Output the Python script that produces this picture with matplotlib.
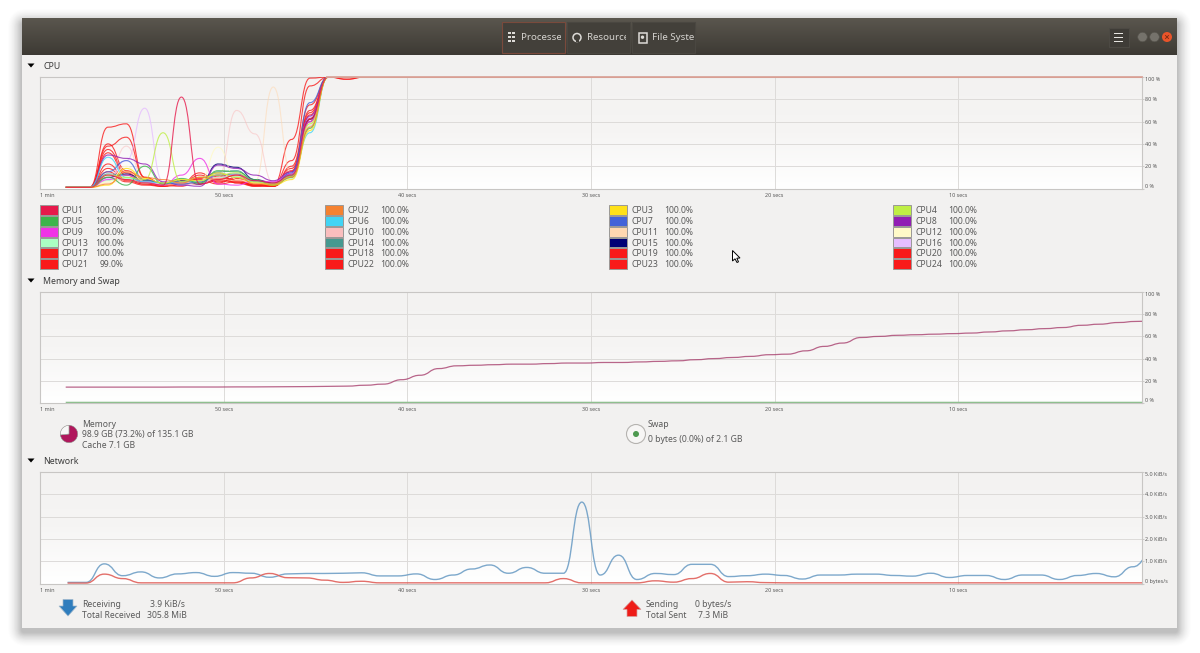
"""System monitor window: CPU, memory and network history graphs"""
import numpy as np
import matplotlib
matplotlib.use('Agg')
import matplotlib.pyplot as plt
from matplotlib.colors import LinearSegmentedColormap
from matplotlib.patches import FancyBboxPatch, PathPatch, Polygon, Rectangle, Circle
from matplotlib.path import Path

plt.rcParams['font.family'] = ['Noto Sans', 'DejaVu Sans']

W, H = 1200, 653

# seconds ago for every sample
cpu_secs = [58.6] + list(np.arange(58.3, -1, -1))
net_secs = list(np.arange(58.5, -1, -1))
tick_secs = [60, 50, 40, 30, 20, 10]
tick_names = ['1 min', '50 secs', '40 secs', '30 secs', '20 secs', '10 secs']

# rest of the CPU history once everything is loaded
settled = [100] * 45
dipped = [98, 100] + [100] * 43

cpu1 = [1, 1, 1, 12, 8, 5, 3, 82, 4, 8, 12, 7, 5, 12, 62, 100] + settled
cpu2 = [1, 1, 1, 4, 15, 10, 8, 5, 10, 8, 12, 4, 4, 10, 55, 100] + settled
cpu3 = [1, 1, 1, 3, 18, 9, 5, 8, 7, 14, 10, 5, 3, 8, 52, 100] + settled
cpu4 = [1, 1, 1, 12, 10, 8, 50, 6, 10, 12, 14, 6, 4, 11, 58, 100] + settled
cpu5 = [1, 1, 1, 10, 3, 20, 4, 9, 5, 16, 15, 8, 3, 10, 54, 100] + settled
cpu6 = [1, 1, 1, 28, 10, 6, 5, 6, 7, 14, 10, 6, 4, 12, 50, 100] + settled
cpu7 = [1, 1, 1, 15, 25, 8, 5, 4, 6, 12, 13, 7, 4, 14, 77, 100] + settled
cpu8 = [1, 1, 1, 30, 27, 22, 6, 3, 2, 21, 18, 12, 7, 15, 65, 100] + settled
cpu9 = [1, 1, 1, 8, 12, 6, 3, 12, 27, 4, 3, 7, 6, 13, 60, 100] + settled
cpu10 = [1, 1, 1, 10, 38, 6, 4, 5, 6, 10, 70, 49, 5, 10, 56, 100] + settled
cpu11 = [1, 1, 1, 5, 8, 5, 3, 4, 5, 9, 7, 6, 91, 13, 58, 100] + settled
cpu12 = [1, 1, 1, 6, 20, 6, 4, 5, 6, 37, 8, 5, 4, 10, 53, 100] + settled
cpu13 = [1, 1, 1, 7, 9, 5, 4, 8, 6, 10, 11, 6, 4, 9, 56, 100] + settled
cpu14 = [1, 1, 1, 13, 12, 7, 5, 8, 5, 15, 16, 6, 4, 12, 60, 100] + settled
cpu15 = [1, 1, 1, 10, 13, 7, 5, 7, 4, 22, 19, 8, 5, 11, 62, 100] + settled
cpu16 = [1, 1, 1, 9, 25, 72, 6, 3, 5, 10, 12, 7, 6, 14, 64, 100] + settled
cpu17 = [1, 1, 1, 55, 58, 10, 3, 5, 4, 7, 6, 3, 3, 44, 99, 100] + dipped
cpu18 = [1, 1, 1, 38, 46, 10, 4, 4, 12, 6, 9, 3, 4, 25, 92, 100] + dipped
cpu19 = [1, 1, 1, 35, 14, 6, 3, 5, 14, 5, 10, 4, 2, 20, 75, 100] + settled
cpu20 = [1, 1, 1, 32, 12, 5, 2, 3, 10, 12, 7, 3, 2, 16, 70, 100] + settled
cpu21 = [1, 1, 1, 22, 8, 4, 3, 7, 8, 4, 6, 3, 3, 18, 68, 100] + settled
cpu22 = [1, 1, 1, 18, 7, 4, 2, 6, 6, 9, 8, 2, 2, 13, 63, 100] + settled
cpu23 = [1, 1, 1, 15, 6, 3, 2, 6, 5, 11, 5, 2, 3, 12, 60, 100] + settled
cpu24 = [1, 1, 1, 40, 16, 8, 3, 2, 9, 14, 5, 3, 2, 15, 66, 100] + settled

cpu_series = [cpu1, cpu2, cpu3, cpu4, cpu5, cpu6, cpu7, cpu8, cpu9, cpu10, cpu11, cpu12,
              cpu13, cpu14, cpu15, cpu16, cpu17, cpu18, cpu19, cpu20, cpu21, cpu22, cpu23, cpu24]
cpu_colors = ['#e6194b', '#f58231', '#ffe119', '#bfef45', '#3cb44b', '#42d4f4', '#4363d8', '#911eb4',
              '#f032e6', '#fabebe', '#ffd8b1', '#fffac8', '#aaffc3', '#469990', '#000075', '#e6beff',
              '#f91a1a', '#f91a1a', '#f91a1a', '#f91a1a', '#f91a1a', '#f91a1a', '#f91a1a', '#f91a1a']
cpu_now = ['100.0%'] * 20 + ['99.0%', '100.0%', '100.0%', '100.0%']

memory = [14.3, 14.3, 14.3, 14.3, 14.3, 14.3, 14.3, 14.4, 14.4, 14.4, 14.5, 14.5, 14.6, 14.7, 14.8, 15,
          15.2, 16, 17, 21, 25, 31, 33.5, 34, 34.5, 35, 35, 35.5, 36, 36, 36.5, 36.5, 37, 37.5, 38, 39,
          40, 41, 42, 43.5, 44, 47, 51, 54, 59, 60, 61, 61.5, 62, 62.5, 63, 64, 65, 66, 67, 68, 70,
          71, 72.5, 73.5, 74.3]
swap = [0.4] * 61

net_received = [.05, .05, .88, .35, .52, .25, .43, .49, .32, .49, .46, .28, .43, .45, .45, .46, .48, .34, .34, .43,
                .18, .38, .65, .83, .46, .72, .46, .46, 3.65, .38, 1.27, .18, .45, .40, .86, .86, .31, .35, .42, .36,
                .20, .38, .38, .42, .42, .36, .33, .46, .27, .36, .36, .18, .38, .38, .18, .36, .45, .30, .75, 1.3]
net_sent = [.02, .02, .42, .22, .03, .03, .03, .03, .03, .03, .25, .45, .26, .25, .15, .05, .10, .03, .03, .03,
            .03, .03, .03, .03, .03, .03, .03, .22, .03, .03, .03, .03, .12, .06, .22, .45, .06, .08, .04, .03,
            .03, .03, .03, .03, .03, .03, .03, .03, .03, .03, .03, .03, .03, .03, .03, .03, .03, .03, .03, .03]

cpu_ticks = ['0 %', '20 %', '40 %', '60 %', '80 %', '100 %']
net_ticks = ['0 bytes/s', '1.0 KiB/s', '2.0 KiB/s', '3.0 KiB/s', '4.0 KiB/s', '5.0 KiB/s']

memory_used = [73.2, 26.8]

TEXT = '#5a5a5a'
BODY = '#f2f1f0'
SMALL = 6.2


def px_axes(fig, left, top, right, bottom):
    return fig.add_axes([left / W, 1 - bottom / H, (right - left) / W, (bottom - top) / H])


def smooth_line(ax, xs, ys, color, lw=0.8, alpha=0.8, zorder=3):
    """Curve through the samples, flat at each sample like the real widget"""
    verts = [(xs[0], ys[0])]
    codes = [Path.MOVETO]
    for i in range(1, len(xs)):
        mid = (xs[i - 1] + xs[i]) / 2
        verts += [(mid, ys[i - 1]), (mid, ys[i]), (xs[i], ys[i])]
        codes += [Path.CURVE4] * 3
    ax.add_patch(PathPatch(Path(verts, codes), fill=False, edgecolor=color, lw=lw, alpha=alpha, zorder=zorder))


def graph(fig, top, bottom, ymax, labels):
    ax = px_axes(fig, 40, top, 1142, bottom)
    grad = np.linspace(0, 1, 64).reshape(-1, 1)
    cmap = LinearSegmentedColormap.from_list('bg', ['#f3f2f1', '#f6f5f4', '#ffffff'])
    ax.imshow(grad, extent=[60, 0, 0, ymax], aspect='auto', cmap=cmap, origin='upper', zorder=0)
    ax.set_xlim(60, 0)
    ax.set_ylim(0, ymax)
    ax.set_xticks(tick_secs, tick_names)
    yt = np.linspace(0, ymax, 6)
    ax.set_yticks(yt, labels)
    ax.yaxis.tick_right()
    ax.tick_params(axis='x', length=0, pad=3.0, labelsize=3.9, labelcolor=TEXT)
    ax.tick_params(axis='y', length=1.5, width=0.6, color='#c8c6c4', pad=0.8, labelsize=3.9, labelcolor=TEXT)
    ax.grid(True, color='#dddbd9', lw=0.7, zorder=1)
    ax.set_axisbelow(True)
    for sp in ax.spines.values():
        sp.set_color('#c8c6c4')
        sp.set_linewidth(0.8)
    # first and last labels stay inside the plot height
    ylab = ax.get_yticklabels()
    ylab[0].set_va('bottom')
    ylab[-1].set_va('top')
    ax.get_xticklabels()[0].set_ha('left')
    return ax


def window(bg):
    for i in range(18):
        grow = 18 - i
        bg.add_patch(FancyBboxPatch((22 - 0.8 * grow, 23 - 0.8 * grow), 1155 + 1.6 * grow, 609 + 1.6 * grow,
                                    boxstyle='round,pad=0,rounding_size=%d' % (grow + 2),
                                    fc='black', ec='none', alpha=0.005 + 0.0011 * i, zorder=1))
    bg.add_patch(Rectangle((22, 19), 1155, 609, fc=BODY, ec='none', zorder=2))
    grad = np.linspace(0, 1, 36).reshape(-1, 1)
    cmap = LinearSegmentedColormap.from_list('head', ['#5a564e', '#3d3a34'])
    bg.imshow(grad, extent=[22, 1177, 55.5, 19], aspect='auto', cmap=cmap, zorder=3)
    bg.set_xlim(0, W)
    bg.set_ylim(H, 0)

    # header switcher buttons, their labels are cut off by the button edge
    tabs = [(502, 19, 59, 'Processes', '#7a4a3c'), (567, 20, 59, 'Resources', '#4a4741'),
            (632, 20, 62, 'File System', '#4a4741')]
    for x, pad, keep, name, edge in tabs:
        bg.add_patch(Rectangle((x, 22), 63, 31, fc='#43403a', ec=edge, lw=0.8, zorder=4))
        clip = Rectangle((x, 22), keep, 31, transform=bg.transData)
        t = bg.text(x + pad, 37.5, name, color='#d5d3cf', fontsize=7.0, va='center', zorder=5)
        t.set_clip_path(clip)
        t.set_clip_on(True)
    for y in (33, 37, 41):
        bg.add_patch(Rectangle((507.5, y - 1), 3, 2.2, fc='#dddbd7', ec='none', zorder=5))
        bg.add_patch(Rectangle((511.5, y - 0.6), 3.5, 1.2, fc='#dddbd7', ec='none', zorder=5))
    bg.add_patch(Circle((577, 37.5), 4, fc='none', ec='#dddbd7', lw=1.1, zorder=5))
    bg.add_patch(Rectangle((575.5, 39), 3, 3, fc='#43403a', ec='none', zorder=5))
    bg.add_patch(Rectangle((638.5, 33), 8, 9.5, fc='none', ec='#dddbd7', lw=1.1, zorder=5))
    bg.add_patch(Circle((642.5, 37.2), 1.7, fc='#dddbd7', ec='none', zorder=5))

    bg.add_patch(Rectangle((1108.5, 28), 20, 19, fc='#3f3c37', ec='#4d4a44', lw=0.7, zorder=4))
    for y in (33.5, 37.5, 41.5):
        bg.add_patch(Rectangle((1113.5, y - 0.6), 9.5, 1.3, fc='#e6e4e0', ec='none', zorder=5))
    bg.add_patch(Circle((1142.5, 37), 4.8, fc='#75726b', ec='#55524b', lw=0.5, zorder=5))
    bg.add_patch(Circle((1154.5, 37), 4.8, fc='#75726b', ec='#55524b', lw=0.5, zorder=5))
    bg.add_patch(Circle((1167, 37), 5, fc='#e9542a', ec='none', zorder=5))
    bg.plot([1165.5, 1168.5], [35.5, 38.5], color='#7a2a12', lw=0.6, zorder=6)
    bg.plot([1165.5, 1168.5], [38.5, 35.5], color='#7a2a12', lw=0.6, zorder=6)
    bg.set_xlim(0, W)
    bg.set_ylim(H, 0)


def section(bg, y, title):
    bg.add_patch(Polygon([(27.5, y - 2), (34.5, y - 2), (31, y + 2)], fc='black', ec='none', zorder=5))
    bg.text(43, y + 1, title, fontsize=6.3, fontweight='bold', color='#3c3c3c', va='center', zorder=5)


def cpu_legend(bg):
    col_x = [39, 324, 608, 892]
    row_y = [210, 221, 232, 242.5, 253, 264]
    for i in range(24):
        x = col_x[i % 4]
        y = row_y[i // 4]
        bg.add_patch(Rectangle((x + 0.5, y - 4.8), 18.5, 9.6, fc=cpu_colors[i], ec='#9a9896', lw=0.7, zorder=5))
        bg.text(x + 23, y + 0.7, 'CPU%d' % (i + 1), fontsize=SMALL, color=TEXT, va='center', zorder=5)
        bg.text(x + 85, y + 0.7, cpu_now[i], fontsize=SMALL, color=TEXT, va='center', ha='right', zorder=5)


def info_blocks(fig, bg):
    for y, s in [(424.7, 'Memory'), (435, '98.9 GB (73.2%) of 135.1 GB'), (445, 'Cache 7.1 GB')]:
        bg.text(82, y, s, fontsize=SMALL, color=TEXT, va='center', zorder=5)
    pie_ax = px_axes(fig, 58, 423, 80, 445)
    pie_ax.pie(memory_used, colors=['#b0175c', '#f8f7f6'], startangle=90, counterclock=False, radius=0.98,
               wedgeprops={'edgecolor': '#8d8b88', 'linewidth': 0.4})

    bg.add_patch(Circle((636, 434), 9.5, fc='#f7f6f5', ec='#b5b3b0', lw=0.8, zorder=5))
    bg.add_patch(Circle((636, 434), 3, fc='#4e9a50', ec='none', zorder=6))
    bg.text(648, 424.7, 'Swap', fontsize=SMALL, color=TEXT, va='center', zorder=5)
    bg.text(648, 439.7, '0 bytes (0.0%) of 2.1 GB', fontsize=SMALL, color=TEXT, va='center', zorder=5)

    bg.add_patch(Polygon([(63, 599.5), (73, 599.5), (73, 606), (77, 606), (68, 616), (59, 606), (63, 606)],
                         fc='#2f7dbd', ec='#a0b8cc', lw=0.5, zorder=5))
    bg.text(82, 604.7, 'Receiving', fontsize=SMALL, color=TEXT, va='center', zorder=5)
    bg.text(82, 615, 'Total Received', fontsize=SMALL, color=TEXT, va='center', zorder=5)
    bg.text(185, 604.7, '3.9 KiB/s', fontsize=SMALL, color=TEXT, va='center', ha='right', zorder=5)
    bg.text(187, 615, '305.8 MiB', fontsize=SMALL, color=TEXT, va='center', ha='right', zorder=5)

    bg.add_patch(Polygon([(632, 600), (641, 609.5), (637, 609.5), (637, 616.5), (627, 616.5), (627, 609.5), (623, 609.5)],
                         fc='#ee1c18', ec='#d8a0a0', lw=0.5, zorder=5))
    bg.text(646, 604.7, 'Sending', fontsize=SMALL, color=TEXT, va='center', zorder=5)
    bg.text(646, 615, 'Total Sent', fontsize=SMALL, color=TEXT, va='center', zorder=5)
    bg.text(731, 604.7, '0 bytes/s', fontsize=SMALL, color=TEXT, va='center', ha='right', zorder=5)
    bg.text(728, 615, '7.3 MiB', fontsize=SMALL, color=TEXT, va='center', ha='right', zorder=5)


def main():
    fig = plt.figure(figsize=(W / 100, H / 100), dpi=100, facecolor='white')
    bg = fig.add_axes([0, 0, 1, 1])
    bg.axis('off')
    window(bg)
    section(bg, 65.5, 'CPU')
    section(bg, 280.5, 'Memory and Swap')
    section(bg, 460.5, 'Network')
    cpu_legend(bg)
    info_blocks(fig, bg)

    # mouse pointer sitting in the legend area
    bg.add_patch(Polygon([(732.5, 250.5), (732.5, 261), (735, 258.8), (737, 262.5), (738.5, 261.8),
                          (736.8, 258.2), (740, 258)], fc='white', ec='black', lw=0.7, zorder=7))

    ax_cpu = graph(fig, 77, 188.5, 100, cpu_ticks)
    # the reds go first so the coloured lines stay readable in the busy low part
    for values, color in list(zip(cpu_series, cpu_colors))[::-1]:
        # pale lines look washed out in the reference
        alpha = 0.55 if color in ('#fabebe', '#ffd8b1') else 0.8
        smooth_line(ax_cpu, cpu_secs, values, color, alpha=alpha)
    ax_cpu.axhline(100, xmin=0.26, color='#d9a59c', lw=1.3, zorder=4, clip_on=False)

    ax_mem = graph(fig, 292, 403, 100, cpu_ticks)
    smooth_line(ax_mem, cpu_secs, swap, '#8fbf8f', lw=1.2, alpha=1)
    smooth_line(ax_mem, cpu_secs, memory, '#a8406e', lw=0.9)

    ax_net = graph(fig, 472, 583.5, 5, net_ticks)
    smooth_line(ax_net, net_secs, net_received, '#6f9fc6', lw=1.0, alpha=0.9)
    smooth_line(ax_net, net_secs, net_sent, '#e0605a', lw=1.0, alpha=0.9)

    fig.savefig('out.png', dpi=100, facecolor='white')


if __name__ == '__main__':
    main()
